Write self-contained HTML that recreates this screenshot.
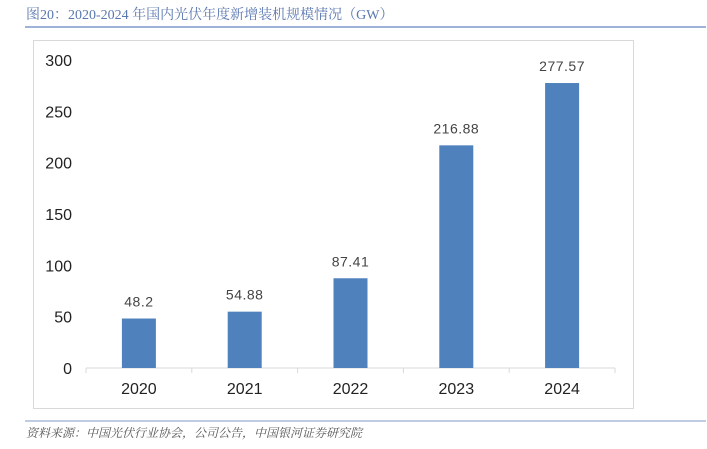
<!DOCTYPE html>
<html><head><meta charset="utf-8"><style>
body{margin:0;background:#fff;width:707px;height:444px;overflow:hidden;font-family:"Liberation Sans","Noto Sans CJK SC",sans-serif}
</style></head><body>
<svg width="707" height="444">
<text x="26" y="19" font-size="14" fill="#5a78b0" font-family="Liberation Serif, Noto Serif CJK SC, serif">图20：2020-2024 年国内光伏年度新增装机规模情况（GW）</text>
<line x1="25" y1="27" x2="706" y2="27" stroke="#7f9ac9" stroke-width="1.5"/>
<rect x="33.5" y="40.5" width="600" height="368" fill="none" stroke="#d9d9d9"/>
<g id="plot"></g>
<line x1="25" y1="421" x2="706" y2="421" stroke="#7f9ac9" stroke-width="1"/>
<text x="26" y="437" font-size="12" font-style="italic" fill="#555" font-family="Liberation Serif, Noto Serif CJK SC, serif">资料来源：中国光伏行业协会，公司公告，中国银河证券研究院</text>
</svg>
<script>
const categories=["2020","2021","2022","2023","2024"];
const values=[48.2,54.88,87.41,216.88,277.57];
const valueLabels=["48.2","54.88","87.41","216.88","277.57"];
const yTicks=[0,50,100,150,200,250,300];
const NS="http://www.w3.org/2000/svg";
const g=document.getElementById('plot');
const x0=86,x1=615,y0=368,y300=60;
const yS=v=>y0-(v/300)*(y0-y300);
const bw=(x1-x0)/categories.length;
const xC=i=>x0+bw*(i+0.5);
function mk(t,a,txt){const e=document.createElementNS(NS,t);for(const k in a)e.setAttribute(k,a[k]);if(txt!==undefined)e.textContent=txt;g.appendChild(e);return e;}
yTicks.forEach(v=>{const t=mk('text',{x:72,y:yS(v)+6,'text-anchor':'end','font-size':16,fill:'#222'},String(v));

});
const ax=mk('line',{x1:x0,y1:y0,x2:x1,y2:y0,stroke:'#d9d9d9'});


for(let i=0;i<=categories.length;i++){const tk=mk('line',{x1:x0+bw*i,y1:y0,x2:x0+bw*i,y2:y0+5,stroke:'#d9d9d9'});

}
categories.forEach((c,i)=>{
const b=mk('rect',{x:xC(i)-17,y:yS(values[i]),width:34,height:y0-yS(values[i]),fill:'#4f81bd'});


const l=mk('text',{x:xC(i),y:yS(values[i])-12,'text-anchor':'middle','font-size':14,fill:'#444','letter-spacing':'0.5'},valueLabels[i]);


const xl=mk('text',{x:xC(i),y:394,'text-anchor':'middle','font-size':16,fill:'#222'},c);


});
</script>
</body></html>
